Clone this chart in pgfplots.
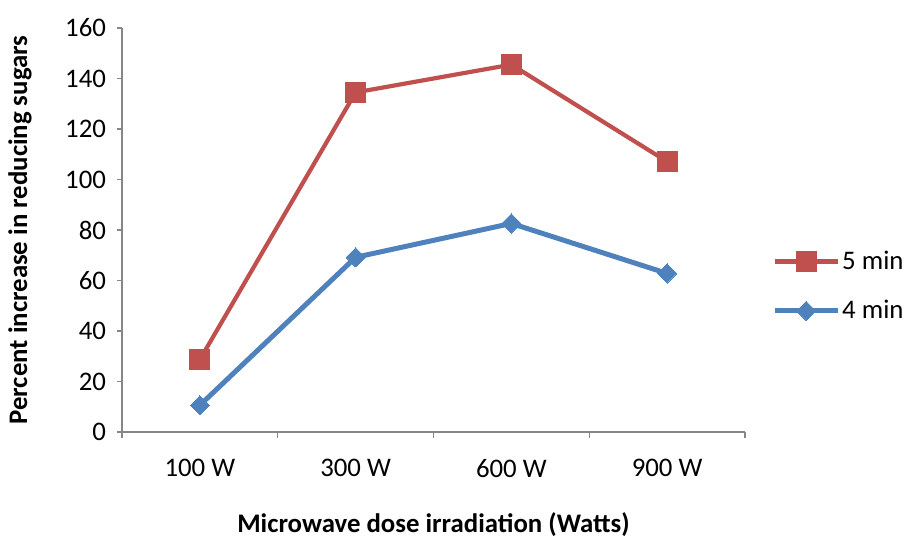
\documentclass[border=0pt]{standalone}
\usepackage{fontspec}
\setmainfont{Carlito}
\usepackage{pgfplots}
\pgfplotsset{compat=1.18}
\definecolor{exred}{HTML}{C0504D}
\definecolor{exblue}{HTML}{4F81BD}
\definecolor{axgray}{HTML}{868686}
\begin{document}
\begin{tikzpicture}
\path[use as bounding box] (-61pt,-52.5pt) rectangle (391pt,216pt);
\begin{axis}[
  at={(0,0)}, anchor=origin,
  scale only axis, width=311.5pt, height=202pt,
  xmin=0.5, xmax=4.5, ymin=0, ymax=160,
  axis lines=left, axis line style={axgray, line width=0.7pt, -},
  xtick={1,2,3,4}, xticklabels={100 W,300 W,600 W,900 W},
  minor xtick={0.5,1.5,2.5,3.5,4.5},
  ytick={0,20,...,160},
  tick align=outside,
  x tick style={draw=none},
  minor x tick style={draw=axgray, line width=0.7pt},
  y tick style={draw=axgray, line width=0.7pt},
  minor tick length=3pt, major tick length=2.5pt,
  tick label style={font=\fontsize{13.4}{15}\selectfont},
  /pgf/number format/assume math mode=true,
  xticklabel style={yshift=-7.5pt},
  yticklabel style={xshift=-2pt},
  xlabel={\bfseries Microwave dose irradiation (Watts)},
  ylabel={\bfseries Percent increase in reducing sugars},
  label style={font=\fontsize{13.4}{15}\selectfont},
  xlabel style={at={(0.5,0)}, anchor=center, yshift=-46.5pt},
  every axis y label/.append style={at={(-51pt,101pt)}, anchor=center},
  clip=false,
  legend style={at={(rel axis cs:1.043,0.361)}, anchor=west, draw=none, fill=none,
    font=\fontsize{13.4}{15}\selectfont, row sep=12pt, inner sep=0pt,
    nodes={inner xsep=1pt, inner ysep=1pt}},
  legend image code/.code={
    \draw[#1, mark repeat=2, mark phase=2] plot coordinates {(0pt,0pt) (15.75pt,0pt) (31.5pt,0pt)};
  },
]
\addplot[exred, line width=2.1pt, mark=square*, mark size=5pt, mark options={solid, line width=0pt}]
  coordinates {(1,28.7) (2,134.5) (3,145.5) (4,107.1)};
\addlegendentry{5 min}
\addplot[exblue, line width=2.5pt, mark=square*, mark size=3.4pt, mark options={solid, rotate=45, line width=0pt}]
  coordinates {(1,10.6) (2,69.2) (3,82.6) (4,62.8)};
\addlegendentry{4 min}
\end{axis}
\end{tikzpicture}
\end{document}
